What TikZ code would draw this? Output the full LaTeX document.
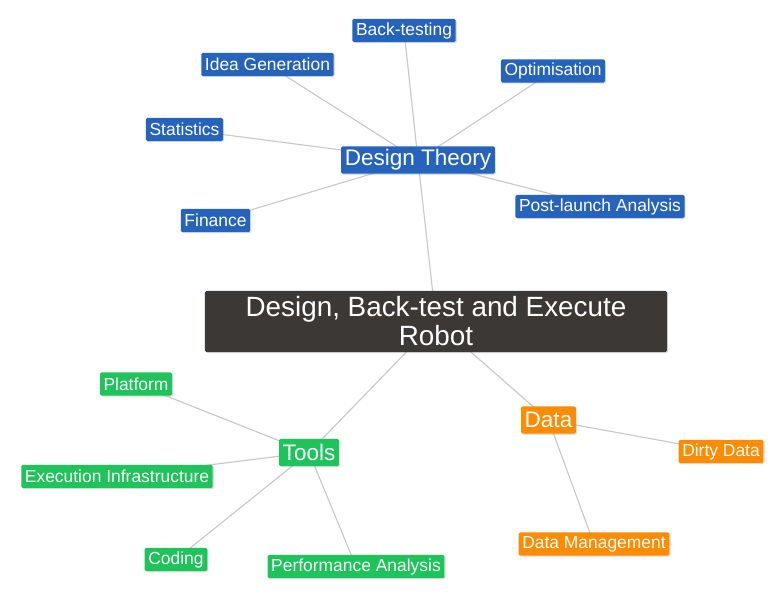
\documentclass[tikz,border=0pt]{standalone}
\usepackage{fontspec}
\setmainfont{Liberation Sans}
\usepackage{xcolor}
\usepackage{tikz}
\usetikzlibrary{backgrounds}
\usetikzlibrary{shadows}
\definecolor{dtblue}{HTML}{2563BD}
\definecolor{toolgreen}{HTML}{1EC45A}
\definecolor{dataorange}{HTML}{FF8C00}
\definecolor{robotgray}{HTML}{3B3835}
\definecolor{linkgray}{HTML}{C8C8C8}
\begin{document}
\begin{tikzpicture}[x=0.025cm,y=-0.025cm,
	box/.style={text=white,rounded corners=1pt,inner xsep=2.6pt,inner ysep=0pt,minimum height=16.4pt,
		drop shadow={shadow xshift=0.8pt,shadow yshift=-0.8pt,opacity=0.25},font=\fontsize{12.4}{14}\selectfont},
	leaf/.style={box,fill=dtblue},
	hub/.style={box,minimum height=19.5pt,font=\fontsize{16}{18}\selectfont},
	link/.style={draw=linkgray,line width=0.8pt}]
	\useasboundingbox (0,0) rectangle (783,597);
	% centre
	\node[box,fill=robotgray,minimum width=328.6pt,minimum height=43.4pt,align=center,
		font=\fontsize{19.8}{20.6}\selectfont] (robot) at (436,321.5) {Design, Back-test and Execute\\Robot};
	% design theory
	\node[hub,fill=dtblue] (dt) at (418,160) {Design Theory};
	\node[leaf] (bt) at (404,30.5) {Back-testing};
	\node[leaf] (idea) at (267.5,64.5) {Idea Generation};
	\node[leaf] (opt) at (553,71) {Optimisation};
	\node[leaf] (stat) at (184.5,129.5) {Statistics};
	\node[leaf] (fin) at (215.5,220.5) {Finance};
	\node[leaf] (post) at (600,206.5) {Post-launch Analysis};
	% tools
	\node[hub,fill=toolgreen] (tools) at (309,452.5) {Tools};
	\node[leaf,fill=toolgreen] (plat) at (136,384) {Platform};
	\node[leaf,fill=toolgreen] (exec) at (117,476.5) {Execution Infrastructure};
	\node[leaf,fill=toolgreen] (code) at (176,559.5) {Coding};
	\node[leaf,fill=toolgreen] (perf) at (356,566.5) {Performance Analysis};
	% data
	\node[hub,fill=dataorange] (data) at (548.5,420) {Data};
	\node[leaf,fill=dataorange] (dirty) at (721,451.5) {Dirty Data};
	\node[leaf,fill=dataorange] (dman) at (594,544) {Data Management};
	\begin{scope}[on background layer]
		\foreach \n in {dt,tools,data} \draw[link] (robot.center) -- (\n.center);
		\foreach \n in {bt,idea,opt,stat,fin,post} \draw[link] (dt.center) -- (\n.center);
		\foreach \n in {plat,exec,code,perf} \draw[link] (tools.center) -- (\n.center);
		\foreach \n in {dirty,dman} \draw[link] (data.center) -- (\n.center);
	\end{scope}
\end{tikzpicture}
\end{document}
